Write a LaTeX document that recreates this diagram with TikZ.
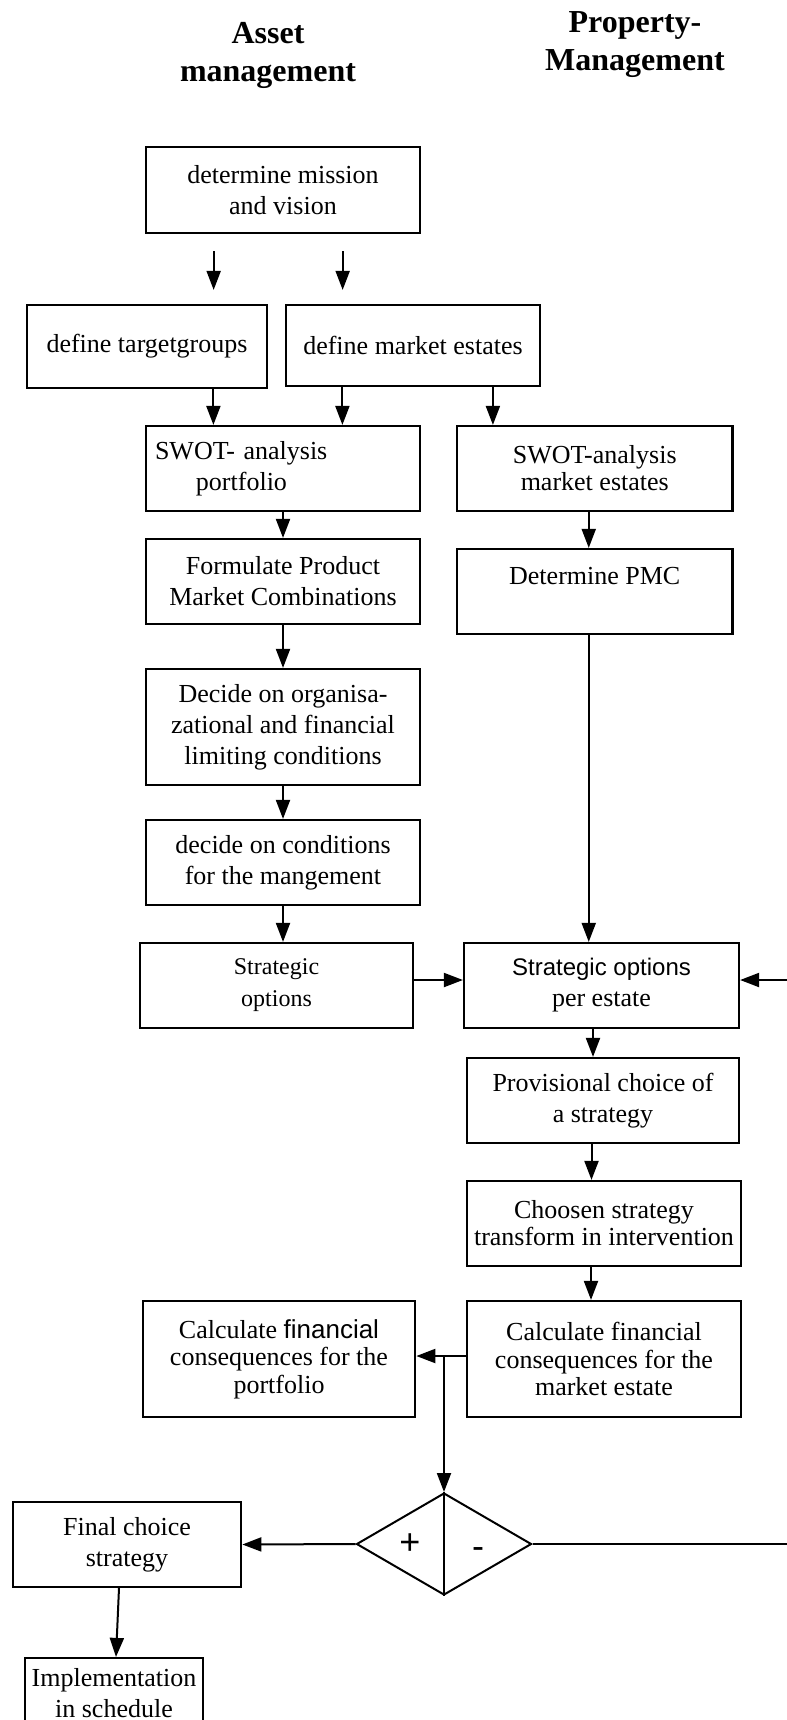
\documentclass[tikz,border=0pt]{standalone}
\usepackage{fontspec}
\setmainfont{Liberation Serif}
\setsansfont{Liberation Sans}
\usetikzlibrary{arrows.meta, shapes.geometric}

\begin{document}
\begin{tikzpicture}[
		x=0.5pt, y=-0.5pt,
		title/.style		={ font=\fontsize{16}{19}\selectfont\bfseries, align=center },
		procbox/.style	={ draw, line width=1.1pt,
			align=center, inner sep=2pt,
			minimum width=137pt, minimum height=42.5pt,
			font=\fontsize{13}{15.5}\selectfont
		},
		tallbox/.style	={ procbox, minimum height=58pt },
		flow/.style		={ line width=1pt, -{Triangle[length=9.5pt, width=7pt]} },
		wire/.style		={ line width=1pt },
		decision/.style	={ diamond, draw, line width=1pt, inner sep=0pt,
			minimum width=87.5pt, minimum height=51pt
		},
		sign/.style		={ font=\fontsize{18}{18}\selectfont\sffamily },
	]

	\useasboundingbox (0,0) rectangle (787,1720);

	% column headers
	\node (hasset) [title] at (268,55) {Asset\\management};
	\node (hprop) [title] at (635,45) {Property-\\Management};

	% asset management column
	\node (mission) [procbox, minimum width=136.75pt, minimum height=43pt] at (283,190)
		{determine mission\\and vision};
	\node (target) [procbox, minimum width=120pt, minimum height=41.5pt] at (147,346.5)
		{define targetgroups};
	\node (mestates) [procbox, minimum width=127pt, minimum height=40.5pt] at (413,345.5)
		{define market estates};
	\node (swotp) [procbox, align=left, text width=128pt, inner xsep=4.4pt] at (283,468.5)
		{SWOT- analysis\\\hspace*{20.5pt}portfolio};
	\node (formulate) [procbox, minimum width=136.75pt] at (283,581.5)
		{Formulate Product\\Market Combinations};
	\node (decide) [tallbox, minimum width=136.75pt] at (283,727)
		{Decide on organisa-\\zational and financial\\limiting conditions};
	\node (conditions) [procbox, minimum width=136.75pt] at (283,862.5)
		{decide on conditions\\for the mangement};
	\node (stratopt) [procbox, minimum width=136.5pt, font=\fontsize{12}{16}\selectfont] at (276.5,985.5)
		{Strategic\\options};
	\node (calcp) [tallbox, minimum width=136.25pt, font=\fontsize{13}{13.75}\selectfont] at (279,1359)
		{Calculate \textsf{financial}\\consequences for the\\portfolio};
	\node (final) [procbox, minimum width=114.25pt] at (127,1544.5)
		{Final choice\\strategy};
	\node (impl) [procbox, minimum width=89pt, minimum height=35pt, inner sep=1pt] at (114,1693)
		{Implementation\\in schedule};

	% property management column
	\node (swotm) [procbox, minimum width=137.75pt, font=\fontsize{13}{13.5}\selectfont] at (594.75,468.5)
		{SWOT-analysis\\market estates};
	\node (pmc) [procbox, minimum width=137.75pt] at (594.75,591.5)
		{Determine PMC\\~};
	\node (perestate) [procbox, minimum width=137.5pt] at (601.5,985.5)
		{{\fontsize{12}{15.5}\selectfont\sffamily Strategic options}\\per estate};
	\node (provisional) [procbox, minimum width=136pt] at (603,1100.5)
		{Provisional choice of\\a strategy};
	\node (choosen) [procbox, minimum width=137.25pt, font=\fontsize{13}{13.5}\selectfont] at (604,1223.5)
		{Choosen strategy\\transform in intervention};
	\node (calcm) [tallbox, minimum width=137.25pt, font=\fontsize{13}{13.75}\selectfont] at (604,1359)
		{Calculate financial\\consequences for the\\market estate};

	% decision
	\node (decision) [decision] at (444,1544) {};
	\node (plus) [sign] at (410,1544) {+};
	\node (minus) [sign] at (478,1553) {-};
	\draw [wire] (decision.north) -- (decision.south);

	% draw arrows
	\draw [flow, shorten <=8.5pt, shorten >=7pt] ([xshift=34.25pt]mission.south west)
			-- ([xshift=34.25pt]mission.south west |- target.north);
	\draw [flow, shorten <=8.5pt, shorten >=7pt] ([xshift=98.75pt]mission.south west)
			-- ([xshift=98.75pt]mission.south west |- mestates.north);
	\draw [flow] ([xshift=34.25pt]swotp.north west |- target.south) -- ([xshift=34.25pt]swotp.north west);
	\draw [flow] ([xshift=98.75pt]swotp.north west |- mestates.south) -- ([xshift=98.75pt]swotp.north west);
	\draw [flow] ([xshift=18.5pt]swotm.north west |- mestates.south) -- ([xshift=18.5pt]swotm.north west);
	\draw [flow] (swotp.south) -- (formulate.north);
	\draw [flow] ([xshift=-3pt]swotm.south) -- ([xshift=-3pt]pmc.north);
	\draw [flow] (formulate.south) -- (decide.north);
	\draw [flow] (decide.south) -- (conditions.north);
	\draw [flow] (conditions.south) -- (conditions.south |- stratopt.north);
	\draw [flow] ([xshift=-3pt]pmc.south) -- ([xshift=-3pt]pmc.south |- perestate.north);
	\draw [flow] ([yshift=2.75pt]stratopt.east) -- ([yshift=2.75pt]stratopt.east -| perestate.west);
	\draw [flow] ([xshift=-4.25pt]perestate.south) -- ([xshift=-4.25pt]perestate.south |- provisional.north);
	\draw [flow] ([xshift=-5.75pt]provisional.south) -- ([xshift=-5.75pt]provisional.south |- choosen.north);
	\draw [flow] ([xshift=-6.5pt]choosen.south) -- ([xshift=-6.5pt]choosen.south |- calcm.north);
	\draw [flow] ([yshift=1.5pt]calcm.west) -- ([yshift=1.5pt]calcm.west -| calcp.east);
	\coordinate (split) at ([yshift=1.5pt]decision.north |- calcm.west);
	\draw [flow] (split) -- (decision.north);
	\draw [flow] (decision.west) -- (final.east);
	\draw [flow] ([xshift=-4pt]final.south) -- ([xshift=1pt]impl.north);

	% loop back to the options per estate
	\coordinate (loop) at (800,1544);
	\draw [flow] (decision.east) -- (decision.east -| loop) |- ([yshift=2.75pt]perestate.east);

\end{tikzpicture}
\end{document}
